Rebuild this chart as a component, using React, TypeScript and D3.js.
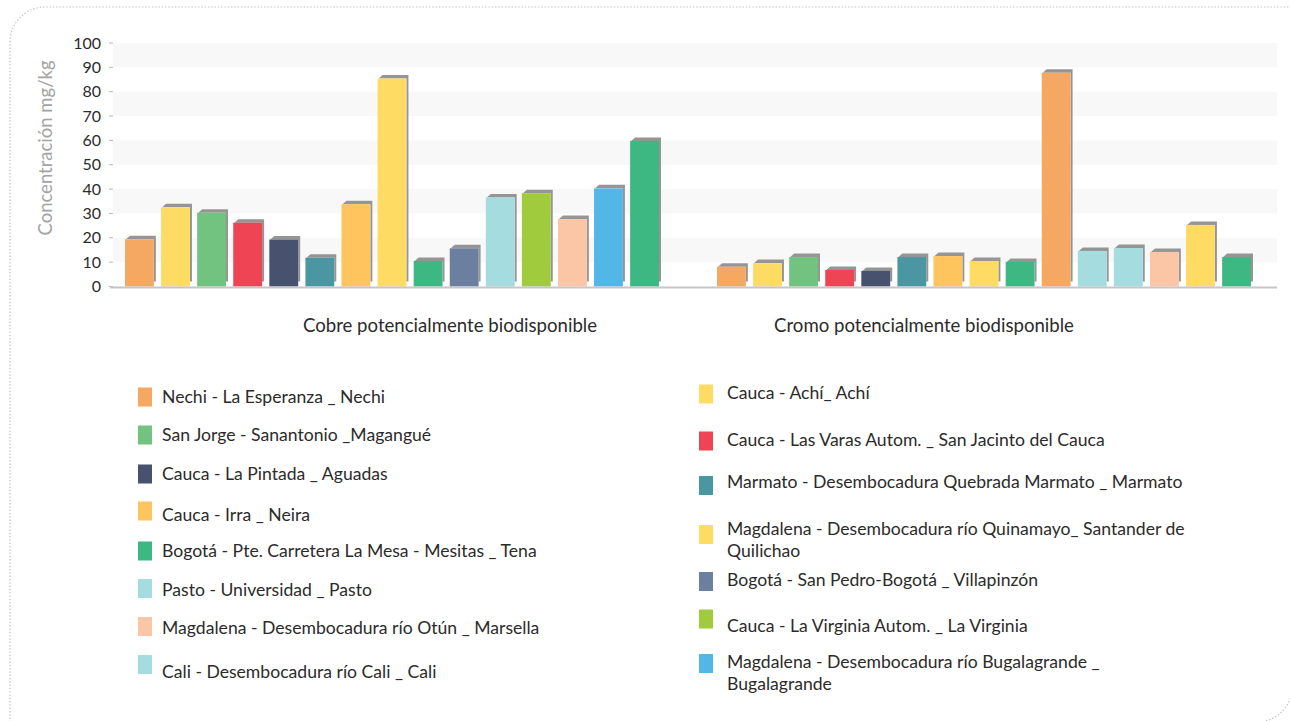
import React, { useEffect, useRef } from 'react';
import * as d3 from 'd3';

// categories on the x axis
const CATEGORIES = ['Cobre potencialmente biodisponible', 'Cromo potencialmente biodisponible'];

// bar values per category, in drawing order (mg/kg)
const COBRE_VALUES = [19.4, 32.5, 30.3, 26.2, 19.3, 11.8, 33.8, 85.4, 10.5, 15.7, 36.6, 38.3, 27.7, 40.3, 59.8];
const CROMO_VALUES = [8.1, 9.6, 12.1, 6.8, 6.4, 12.1, 12.5, 10.5, 10.1, 87.8, 14.6, 15.8, 14.2, 25.3, 12.1];

const Y_TICKS = [0, 10, 20, 30, 40, 50, 60, 70, 80, 90, 100];

// legend, two columns
const LEGEND_LEFT = [
    'Nechi - La Esperanza _ Nechi',
    'San Jorge - Sanantonio _Magangué',
    'Cauca - La Pintada _ Aguadas',
    'Cauca - Irra _ Neira',
    'Bogotá - Pte. Carretera La Mesa - Mesitas _ Tena',
    'Pasto - Universidad _ Pasto',
    'Magdalena - Desembocadura río Otún _ Marsella',
    'Cali - Desembocadura río Cali _ Cali',
];
const LEGEND_RIGHT = [
    'Cauca - Achí_ Achí',
    'Cauca - Las Varas Autom. _ San Jacinto del Cauca',
    'Marmato - Desembocadura Quebrada Marmato _ Marmato',
    'Magdalena - Desembocadura río Quinamayo_ Santander de\nQuilichao',
    'Bogotá - San Pedro-Bogotá _ Villapinzón',
    'Cauca - La Virginia Autom. _ La Virginia',
    'Magdalena - Desembocadura río Bugalagrande _\nBugalagrande',
];

const C = {
    orange: '#F4A862', yellow: '#FEDB62', green: '#72C380', red: '#EE4454', navy: '#47526E',
    teal: '#4A97A2', lorange: '#FEC55E', green2: '#3DB882', slate: '#6B7F9E', cyan: '#A4DCE0',
    lime: '#A0CB3C', peach: '#FBC6A5', sky: '#52B7E6',
};
const COBRE_COLORS = [C.orange, C.yellow, C.green, C.red, C.navy, C.teal, C.lorange, C.yellow, C.green2, C.slate, C.cyan, C.lime, C.peach, C.sky, C.green2];
const CROMO_COLORS = [C.orange, C.yellow, C.green, C.red, C.navy, C.teal, C.lorange, C.yellow, C.green2, C.orange, C.cyan, C.cyan, C.peach, C.yellow, C.green2];
const LEGEND_LEFT_COLORS = [C.orange, C.green, C.navy, C.lorange, C.green2, C.cyan, C.peach, C.cyan];
const LEGEND_RIGHT_COLORS = [C.yellow, C.red, C.teal, C.yellow, C.slate, C.lime, C.sky];

const WIDTH = 1290;
const HEIGHT = 721;
const FONT = 'Lato, "Open Sans", sans-serif';

const App = () => {
    const ref = useRef<SVGSVGElement>(null);

    useEffect(() => {
        const svg = d3.select(ref.current);
        svg.selectAll('*').remove();

        // dotted frame, rounded top-left and bottom-right
        svg.append('path')
            .attr('d', 'M10,42 A35,35 0 0 1 45,7 L1292,7 L1292,687 A35,35 0 0 1 1257,722 L10,722 Z')
            .attr('fill', 'none')
            .attr('stroke', '#c4c4c4')
            .attr('stroke-width', 1.2)
            .attr('stroke-dasharray', '1.5 1.8');

        const yScale = d3.scaleLinear().domain([0, 100]).range([286.5, 43]);
        const plotLeft = 113;
        const plotRight = 1277;

        // alternating bands
        for (let v = 10; v < 100; v += 20) {
            svg.append('rect')
                .attr('x', plotLeft)
                .attr('y', yScale(v + 10))
                .attr('width', plotRight - plotLeft)
                .attr('height', yScale(v) - yScale(v + 10))
                .attr('fill', '#f8f8f8');
        }

        // y axis ticks + labels
        const yAxis = svg.append('g');
        yAxis.selectAll('line').data(Y_TICKS).enter().append('line')
            .attr('x1', 109).attr('x2', 113)
            .attr('y1', d => yScale(d)).attr('y2', d => yScale(d))
            .attr('stroke', '#b8b8b8');
        yAxis.selectAll('text').data(Y_TICKS).enter().append('text')
            .attr('x', 101)
            .attr('y', d => yScale(d))
            .attr('dy', '0.35em')
            .attr('text-anchor', 'end')
            .style('font-family', FONT)
            .style('font-size', '16px')
            .attr('fill', '#2b2b2b')
            .text(d => d);

        svg.append('text')
            .attr('transform', 'translate(46,148) rotate(-90)')
            .attr('text-anchor', 'middle')
            .attr('dy', '0.35em')
            .style('font-family', FONT)
            .style('font-size', '18.5px')
            .attr('fill', '#a4a4a4')
            .text('Concentración mg/kg');

        // bars
        const x0 = d3.scaleBand<string>().domain(CATEGORIES).range([125, 125 + 592 * 2]);
        const x1 = d3.scaleBand<number>().domain(d3.range(15)).range([0, 534]).paddingInner(0.2);
        const groups = [
            { cat: CATEGORIES[0], values: COBRE_VALUES, colors: COBRE_COLORS },
            { cat: CATEGORIES[1], values: CROMO_VALUES, colors: CROMO_COLORS },
        ];
        const bw = x1.bandwidth();
        const y0 = yScale(0);
        groups.forEach(g => {
            const gx = x0(g.cat)!;
            g.values.forEach((v, i) => {
                const x = gx + x1(i)!;
                const yt = yScale(v);
                // grey 3d shadow
                svg.append('polygon')
                    .attr('points', [
                        [x + 1, yt], [x + 5, yt - 3.5], [x + bw + 2, yt - 3.5],
                        [x + bw + 2, y0 - 5], [x + bw, y0 - 5], [x + bw, yt],
                    ].map(p => p.join(',')).join(' '))
                    .attr('fill', '#959595');
                svg.append('rect')
                    .attr('x', x).attr('y', yt)
                    .attr('width', bw).attr('height', y0 - yt)
                    .attr('fill', g.colors[i]);
            });
        });

        // x axis line
        svg.append('line')
            .attr('x1', 110).attr('x2', plotRight)
            .attr('y1', 287.5).attr('y2', 287.5)
            .attr('stroke', '#c6c6ca')
            .attr('stroke-width', 2);

        // category labels
        const labelX = [450, 924];
        CATEGORIES.forEach((c, i) => {
            svg.append('text')
                .attr('x', labelX[i]).attr('y', 325)
                .attr('dy', '0.35em')
                .attr('text-anchor', 'middle')
                .style('font-family', FONT)
                .style('font-size', '18.6px')
                .attr('fill', '#2b2b2b')
                .text(c);
        });

        // legend
        const drawLegend = (labels: string[], colors: string[], sx: number, tx: number, swatchY: number[], textY: number[]) => {
            labels.forEach((lab, i) => {
                svg.append('rect')
                    .attr('x', sx).attr('y', swatchY[i] - 9.5)
                    .attr('width', 14).attr('height', 19)
                    .attr('fill', colors[i]);
                const t = svg.append('text')
                    .attr('x', tx).attr('y', textY[i])
                    .style('font-family', FONT)
                    .style('font-size', '17.6px')
                    .attr('fill', '#2b2b2b');
                lab.split('\n').forEach((line, j) => {
                    t.append('tspan')
                        .attr('x', tx)
                        .attr('dy', j === 0 ? '0.35em' : '22px')
                        .text(line);
                });
            });
        };
        drawLegend(LEGEND_LEFT, LEGEND_LEFT_COLORS, 138, 162,
            [397, 435, 474, 511, 551, 588.5, 626.5, 664.5],
            [397, 435, 474, 515, 551, 590, 628, 672]);
        drawLegend(LEGEND_RIGHT, LEGEND_RIGHT_COLORS, 699, 727,
            [394, 441, 485.5, 534.5, 581.5, 619, 663.5],
            [393, 440, 482, 529, 580, 626, 662]);
    }, []);

    return (
        <svg ref={ref} width={WIDTH} height={HEIGHT}
            style={{ position: 'absolute', left: 0, top: 0, background: '#fff' }} />
    );
};

export default App;
